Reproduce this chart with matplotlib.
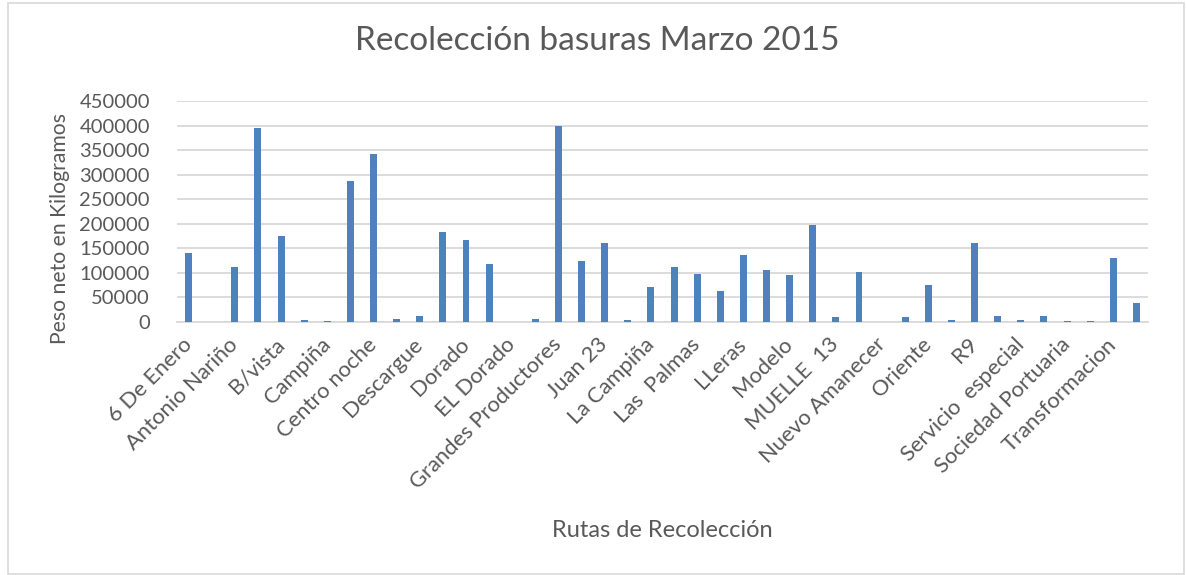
import matplotlib
matplotlib.use("Agg")
import matplotlib.pyplot as plt
from matplotlib.patches import Rectangle
import numpy as np

plt.rcParams['font.family'] = ['Lato', 'DejaVu Sans']

# Category labels (only every second category is labelled in the original chart)
labels = [
    "6 De Enero", "", "Antonio Nariño", "", "B/vista", "", "Campiña", "",
    "Centro noche", "", "Descargue", "", "Dorado", "", "EL Dorado", "",
    "Grandes Productores", "", "Juan 23", "", "La Campiña", "", "Las  Palmas", "",
    "LLeras", "", "Modelo", "", "MUELLE  13", "", "Nuevo Amanecer", "",
    "Oriente", "", "R9", "", "Servicio  especial", "", "Sociedad Portuaria", "",
    "Transformacion", "",
]

# Net weight (kg) per route
values = [
    140000, 1000, 113000, 396000, 176000, 3400, 1500, 288000,
    343000, 5400, 11500, 182500, 167000, 118000, 700, 5400,
    400000, 123500, 161000, 3400, 72000, 113000, 98000, 63500,
    136000, 105500, 96500, 198000, 9500, 101000, 500, 10900,
    74600, 4700, 161000, 11500, 4700, 11500, 1400, 1400,
    130500, 38700,
]

yticks = [0, 50000, 100000, 150000, 200000, 250000, 300000, 350000, 400000, 450000]

title = "Recolección basuras Marzo 2015"
xlabel = "Rutas de Recolección"
ylabel = "Peso neto en Kilogramos"

W, H = 1186, 575
fig = plt.figure(figsize=(W / 100, H / 100), dpi=100)
fig.patch.set_facecolor("white")

text_color = "#595959"
grid_color = "#d9d9d9"
bar_color = "#4F81BD"

ax = fig.add_axes([177 / W, 1 - 322 / H, (1148 - 177) / W, (322 - 101) / H])
x = np.arange(len(values))
ax.bar(x, values, width=0.3, color=bar_color, zorder=3)
ax.set_xlim(-0.5, len(values) - 0.5)
ax.set_ylim(0, 450000)
ax.set_yticks(yticks)
ax.set_yticklabels([str(v) for v in yticks])
ax.yaxis.grid(True, color=grid_color, linewidth=1.3, zorder=0)
ax.set_axisbelow(True)
for s in ["left", "right", "top"]:
    ax.spines[s].set_visible(False)
ax.spines["bottom"].set_color(grid_color)
ax.spines["bottom"].set_linewidth(1.3)
ax.tick_params(axis="y", length=0, pad=19.5, labelsize=14.5, colors=text_color)
ax.tick_params(axis="x", length=0, pad=14, labelsize=15.8, colors=text_color)
ax.set_xticks(x)
ax.set_xticklabels(labels, rotation=45, ha="right", va="center", rotation_mode="anchor")

fig.text(597 / W, 1 - 50 / H, title, ha="center", va="baseline", fontsize=24, color=text_color)
fig.text(662 / W, 1 - 537 / H, xlabel, ha="center", va="baseline", fontsize=17, color=text_color)
fig.text(60 / W, 1 - 228 / H, ylabel, ha="center", va="center", rotation=90, fontsize=15.2, color=text_color)

fig.patches.append(Rectangle((8 / W, 1 / H), (1184 - 8) / W, (572 - 1) / H,
                             transform=fig.transFigure, fill=False,
                             edgecolor=grid_color, linewidth=1.2))

fig.savefig("out.png", dpi=100, facecolor="white")
